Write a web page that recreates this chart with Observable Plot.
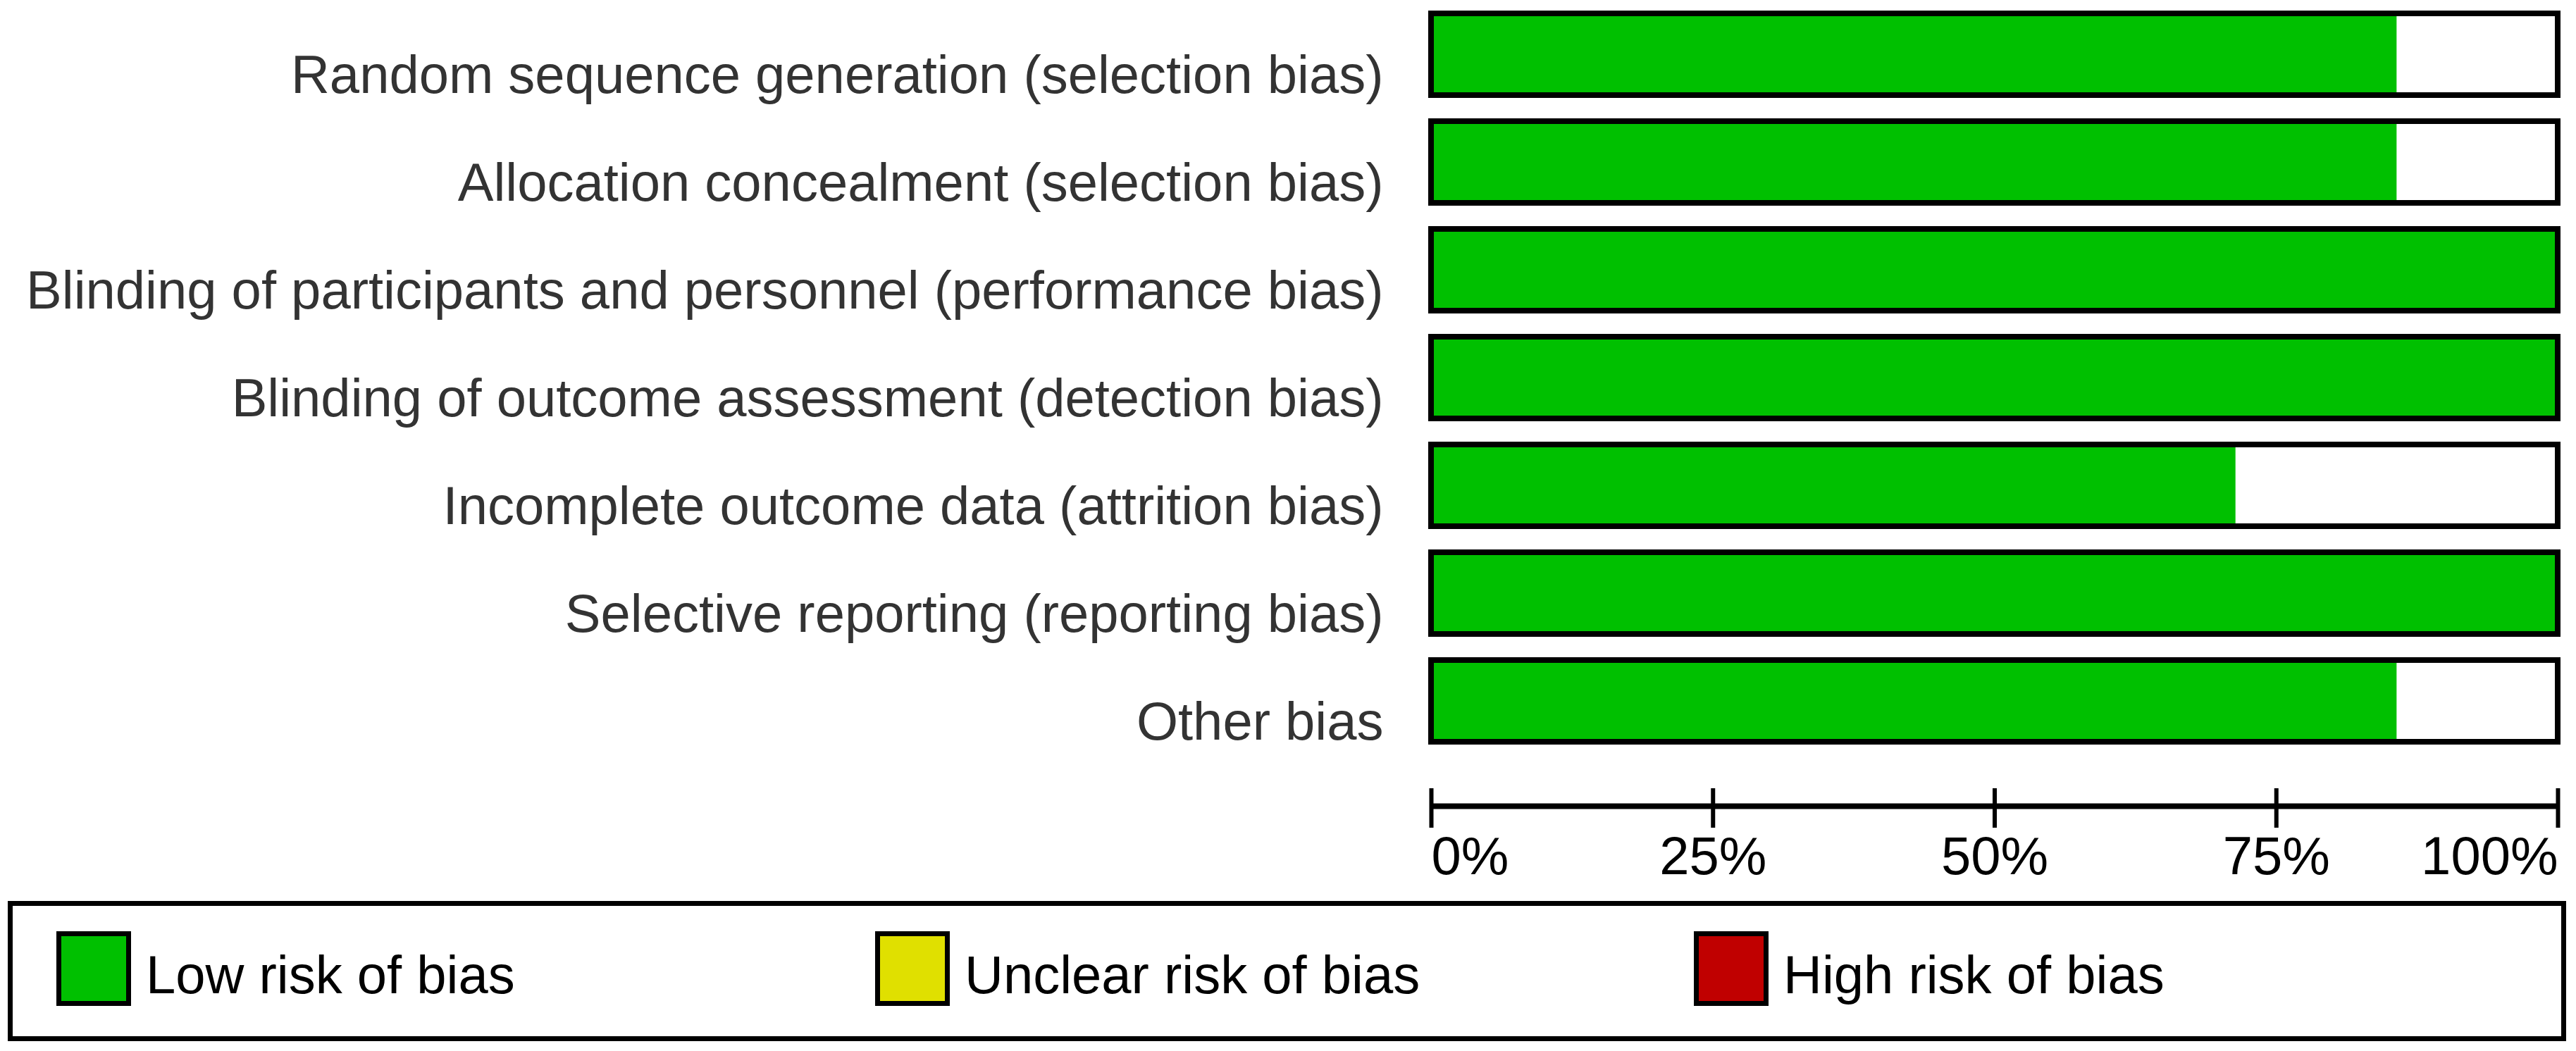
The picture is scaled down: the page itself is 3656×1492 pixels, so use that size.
<!DOCTYPE html>
<html>
<head>
<meta charset="utf-8">
<script src="https://cdn.jsdelivr.net/npm/d3@7"></script>
<script src="https://cdn.jsdelivr.net/npm/@observablehq/plot@0.6"></script>
<style>
  html, body { margin: 0; padding: 0; background: white; }
  #chart svg { display: block; }
  #legend { position: relative; width: 3656px; height: 232px; font-family: "Liberation Sans", Arial, sans-serif; }
  #legend .box { position: absolute; left: 11px; top: 19px; width: 3631px; height: 199px; box-sizing: border-box; border: 7px solid black; }
  #legend .item { position: absolute; top: 36px; display: flex; align-items: center; }
  #legend .sw { width: 106px; height: 106px; box-sizing: border-box; border: 7px solid black; }
  #legend .lab { margin-left: 21px; font-size: 76px; color: black; position: relative; top: 8px; }
</style>
</head>
<body>
<div id="chart"></div>
<div id="legend"><div class="box"></div></div>
<script>
const categories = [
  "Random sequence generation (selection bias)",
  "Allocation concealment (selection bias)",
  "Blinding of participants and personnel (performance bias)",
  "Blinding of outcome assessment (detection bias)",
  "Incomplete outcome data (attrition bias)",
  "Selective reporting (reporting bias)",
  "Other bias"
];
const lowRisk = [85.7, 85.7, 100, 100, 71.4, 100, 85.7];
const tickValues = [0, 25, 50, 75, 100];
const tickLabels = ["0%", "25%", "50%", "75%", "100%"];
const legendLabels = ["Low risk of bias", "Unclear risk of bias", "High risk of bias"];
const legendColors = ["#00C000", "#E0E000", "#C00000"];
const legendX = [62, 1224, 2386];

const data = categories.map((c, i) => ({category: c, low: lowRisk[i]}));
const fmt = (d) => tickLabels[tickValues.indexOf(d)];

const chart = Plot.plot({
  width: 3656,
  height: 1260,
  marginLeft: 2031,
  marginRight: 26,
  marginTop: 16,
  marginBottom: 203,
  x: {domain: [0, 100], axis: null, label: null},
  y: {domain: categories, paddingInner: 0.24, paddingOuter: 0, axis: null, label: null},
  style: {fontFamily: "'Liberation Sans', Arial, sans-serif", background: "white", overflow: "visible"},
  marks: [
    Plot.barX(data, {y: "category", x1: 0, x2: 100, fill: "white"}),
    Plot.barX(data, {y: "category", x1: 0, x2: "low", fill: legendColors[0]}),
    Plot.barX(data, {y: "category", x1: 0, x2: 100, fill: "none", stroke: "black", strokeWidth: 8}),
    Plot.axisY({tickSize: 0, tickPadding: 68, fontSize: 76, fill: "#333", dy: 30, label: null}),
    Plot.ruleY([categories[categories.length - 1]], {x1: 0, x2: 100, stroke: "black", strokeWidth: 8, dy: 149}),
    Plot.axisX(tickValues, {anchor: "bottom", tickSize: 56, dy: 62, strokeWidth: 6, stroke: "black", tickFormat: () => "", label: null}),
    Plot.axisX([tickValues[0]], {anchor: "bottom", tickSize: 0, tickPadding: 0, dy: 130, fontSize: 76, fill: "black", textAnchor: "start", tickFormat: fmt, label: null}),
    Plot.axisX(tickValues.slice(1, 4), {anchor: "bottom", tickSize: 0, tickPadding: 0, dy: 130, fontSize: 76, fill: "black", textAnchor: "middle", tickFormat: fmt, label: null}),
    Plot.axisX([tickValues[4]], {anchor: "bottom", tickSize: 0, tickPadding: 0, dy: 130, fontSize: 76, fill: "black", textAnchor: "end", tickFormat: fmt, label: null})
  ]
});
document.getElementById("chart").append(chart);

const legend = document.getElementById("legend");
legendLabels.forEach((lab, i) => {
  const item = document.createElement("div");
  item.className = "item";
  item.style.left = legendX[i] + "px";
  const sw = document.createElement("div");
  sw.className = "sw";
  sw.style.background = legendColors[i];
  const t = document.createElement("span");
  t.className = "lab";
  t.textContent = lab;
  item.append(sw, t);
  legend.querySelector(".box").append(item);
});
</script>
</body>
</html>
